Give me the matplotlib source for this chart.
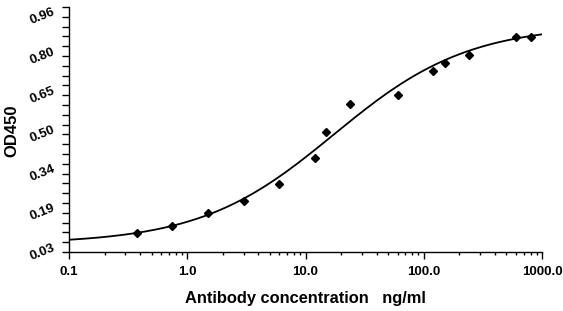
import numpy as np
import matplotlib
matplotlib.use("Agg")
import matplotlib.pyplot as plt
from matplotlib.ticker import FixedLocator, NullFormatter, LogLocator

plt.rcParams['font.family'] = ['Liberation Sans', 'DejaVu Sans']

# Data
conc = [0.375, 0.75, 1.5, 3, 6, 12, 15, 24, 60, 120, 150, 240, 600, 800]
od450 = [0.106, 0.134, 0.185, 0.233, 0.298, 0.401, 0.506, 0.614, 0.649,
         0.744, 0.779, 0.807, 0.882, 0.882]

# 4PL fit parameters (estimated from the drawn curve)
fit_bottom = 0.062
fit_top = 0.928
fit_ec50 = 17.4
fit_hill = 0.765

y_ticks = [0.03, 0.185, 0.34, 0.495, 0.65, 0.805, 0.96]
y_tick_labels = ["0.03", "0.19", "0.34", "0.50", "0.65", "0.80", "0.96"]
x_ticks = [0.1, 1, 10, 100, 1000]
x_tick_labels = ["0.1", "1.0", "10.0", "100.0", "1000.0"]

fig = plt.figure(figsize=(5.63, 3.11), dpi=100)
ax = fig.add_axes([69/563, 59/311, (542-69)/563, (252-7)/311])

xc = np.logspace(-1, 3, 400)
yc = fit_top + (fit_bottom - fit_top) / (1 + (xc / fit_ec50) ** fit_hill)
ax.plot(xc, yc, color='black', lw=1.3)
ax.plot(conc, od450, linestyle='none', marker='D', color='black', markersize=4.5)

ax.set_xscale('log')
ax.set_xlim(0.1, 1000)
ax.set_ylim(0.03, 0.99875)

ax.set_xticks(x_ticks)
ax.set_xticklabels(x_tick_labels, fontsize=9.5, fontweight='bold')
ax.xaxis.set_minor_locator(LogLocator(base=10, subs=np.arange(2, 10)))
ax.xaxis.set_minor_formatter(NullFormatter())

ax.set_yticks(y_ticks)
ax.set_yticklabels(y_tick_labels, fontsize=9.5, fontweight='bold', rotation=22,
                   va='center', ha='right')
minor_y = [0.03 + k * 0.03875 for k in range(26) if k % 4 != 0]
ax.yaxis.set_minor_locator(FixedLocator(minor_y))

ax.tick_params(axis='both', which='major', direction='out', length=5, width=1, color='black', pad=3)
ax.tick_params(axis='x', which='minor', direction='out', length=2.5, width=1)
ax.tick_params(axis='y', which='minor', direction='out', length=5, width=1)
ax.tick_params(axis='x', which='major', pad=5)
ax.tick_params(axis='y', which='major', pad=4)

for s in ['top', 'right']:
    ax.spines[s].set_visible(False)
for s in ['left', 'bottom']:
    ax.spines[s].set_linewidth(1)
    ax.spines[s].set_color('black')

fig.text(305/563, 1 - 298/311, "Antibody concentration   ng/ml", ha='center', va='center',
         fontsize=11.8, fontweight='bold')
fig.text(12/563, 1 - 131/311, "OD450", ha='center', va='center', rotation=90,
         fontsize=12, fontweight='bold')

fig.savefig("out.png", dpi=100, facecolor='white')
